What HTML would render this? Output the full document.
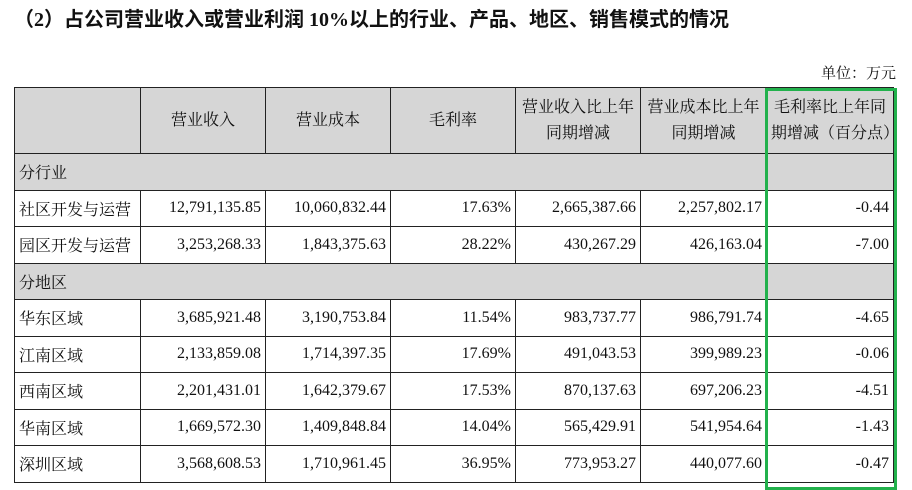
<!DOCTYPE html>
<html><head><meta charset="utf-8"><style>
body{margin:0;width:912px;height:490px;background:#fff;position:relative;overflow:hidden;font-family:"Liberation Serif","Noto Serif CJK SC","Noto Sans CJK SC",serif;color:#111}
.title{position:absolute;left:14px;top:3px;font-size:20px;font-weight:bold;font-family:"Liberation Serif","Noto Sans CJK SC",sans-serif}
.unit{position:absolute;right:16px;top:62px;font-size:15px}
table{position:absolute;left:14px;top:87px;width:879px;border-collapse:collapse;table-layout:fixed;font-size:16px}
td{border:1.5px solid #222;padding:0 4px;white-space:nowrap;overflow:hidden;box-sizing:border-box}
.h td{background:#d6d6d6;text-align:center;height:66px;line-height:26px}
.s td{background:#d6d6d6;height:36.5px}
.r td{height:36.5px;text-align:right}
.r td:first-child{text-align:left}
.green{position:absolute;left:765px;top:88px;width:126px;height:396px;border:3px solid #22b14c}
</style></head><body>
<div class="title">（2）占公司营业收入或营业利润 10%以上的行业、产品、地区、销售模式的情况</div>
<div class="unit">单位：万元</div>
<table>
<colgroup><col style="width:126px"><col style="width:125px"><col style="width:125px"><col style="width:125px"><col style="width:125px"><col style="width:126px"><col style="width:127px"></colgroup>
<tr class="h"><td></td><td>营业收入</td><td>营业成本</td><td>毛利率</td><td>营业收入比上年<br>同期增减</td><td>营业成本比上年<br>同期增减</td><td>毛利率比上年同<br>期增减（百分点）</td></tr>
<tr class="s"><td colspan="7">分行业</td></tr>
<tr class="r"><td>社区开发与运营</td><td>12,791,135.85</td><td>10,060,832.44</td><td>17.63%</td><td>2,665,387.66</td><td>2,257,802.17</td><td>-0.44</td></tr>
<tr class="r"><td>园区开发与运营</td><td>3,253,268.33</td><td>1,843,375.63</td><td>28.22%</td><td>430,267.29</td><td>426,163.04</td><td>-7.00</td></tr>
<tr class="s"><td colspan="7">分地区</td></tr>
<tr class="r"><td>华东区域</td><td>3,685,921.48</td><td>3,190,753.84</td><td>11.54%</td><td>983,737.77</td><td>986,791.74</td><td>-4.65</td></tr>
<tr class="r"><td>江南区域</td><td>2,133,859.08</td><td>1,714,397.35</td><td>17.69%</td><td>491,043.53</td><td>399,989.23</td><td>-0.06</td></tr>
<tr class="r"><td>西南区域</td><td>2,201,431.01</td><td>1,642,379.67</td><td>17.53%</td><td>870,137.63</td><td>697,206.23</td><td>-4.51</td></tr>
<tr class="r"><td>华南区域</td><td>1,669,572.30</td><td>1,409,848.84</td><td>14.04%</td><td>565,429.91</td><td>541,954.64</td><td>-1.43</td></tr>
<tr class="r"><td>深圳区域</td><td>3,568,608.53</td><td>1,710,961.45</td><td>36.95%</td><td>773,953.27</td><td>440,077.60</td><td>-0.47</td></tr>
</table>
<div class="green"></div>
</body></html>
